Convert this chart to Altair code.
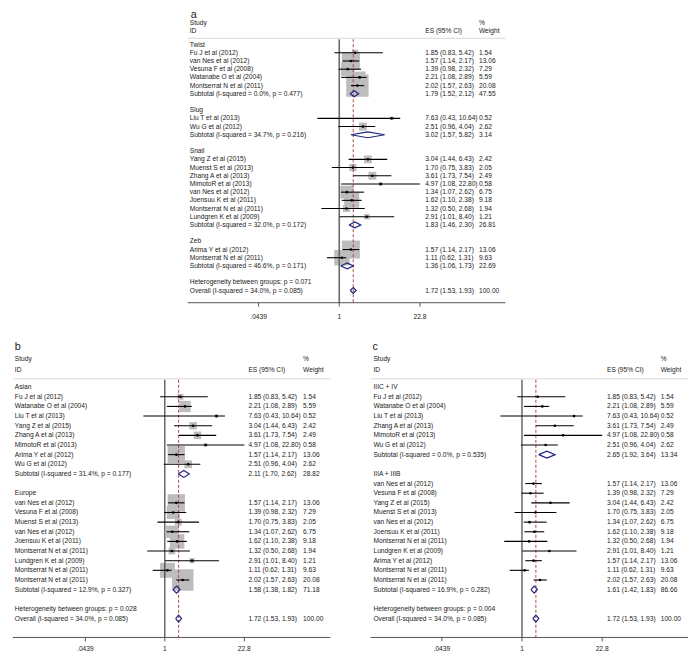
import altair as alt
import pandas as pd

W, H = 684, 648
SX = W / 700
SY = H / 664
FONT = "Liberation Sans"
FS = 6.8 * SX
TXT = "#1a1a1a"

OV_ES, OV_LO, OV_HI, OV_WT = 1.72, 1.53, 1.93, 100.00
OV_LABEL = "Overall  (I-squared = 34.0%, p = 0.085)"

# ---------------- panel a (EMT transcription factor) ----------------
a_groups = ["Twist", "Slug", "Snail", "Zeb"]
a_names = [
    ["Fu J et al (2012)", "van Nes et al (2012)", "Vesuna F et al (2008)", "Watanabe O et al (2004)", "Montserrat N et al (2011)"],
    ["Liu T et al (2013)", "Wu G et al (2012)"],
    ["Yang Z et al (2015)", "Muenst S et al (2013)", "Zhang A et al (2013)", "MimotoR et al (2013)",
     "van Nes et al (2012)", "Joensuu K et al (2011)", "Montserrat N et al (2011)", "Lundgren K et al (2009)"],
    ["Arima Y et al (2012)", "Montserrat N et al (2011)"],
]
a_es = [[1.85, 1.57, 1.39, 2.21, 2.02], [7.63, 2.51], [3.04, 1.70, 3.61, 4.97, 1.34, 1.62, 1.32, 2.91], [1.57, 1.11]]
a_lo = [[0.83, 1.14, 0.98, 1.08, 1.57], [0.43, 0.96], [1.44, 0.75, 1.73, 1.08, 1.07, 1.10, 0.50, 1.01], [1.14, 0.62]]
a_hi = [[5.42, 2.17, 2.32, 2.89, 2.63], [10.64, 4.04], [6.43, 3.83, 7.54, 22.80, 2.62, 2.38, 2.68, 8.40], [2.17, 1.31]]
a_wt = [[1.54, 13.06, 7.29, 5.59, 20.08], [0.52, 2.62], [2.42, 2.05, 2.49, 0.58, 6.75, 9.18, 1.94, 1.21], [13.06, 9.63]]
a_sub_i2 = ["0.0%", "34.7%", "32.0%", "46.6%"]
a_sub_p = ["0.477", "0.216", "0.172", "0.171"]
a_sub_es = [1.79, 3.02, 1.83, 1.36]
a_sub_lo = [1.52, 1.57, 1.46, 1.06]
a_sub_hi = [2.12, 5.82, 2.30, 1.73]
a_sub_wt = [47.55, 3.14, 26.81, 22.69]
a_het_p = "0.071"

# ---------------- panel b (ethnicity) ----------------
b_groups = ["Asian", "Europe"]
b_names = [
    ["Fu J et al (2012)", "Watanabe O et al (2004)", "Liu T et al (2013)", "Yang Z et al (2015)",
     "Zhang A et al (2013)", "MimotoR et al (2013)", "Arima Y et al (2012)", "Wu G et al (2012)"],
    ["van Nes et al (2012)", "Vesuna F et al (2008)", "Muenst S et al (2013)", "van Nes et al (2012)",
     "Joensuu K et al (2011)", "Montserrat N et al (2011)", "Lundgren K et al (2009)",
     "Montserrat N et al (2011)", "Montserrat N et al (2011)"],
]
b_es = [[1.85, 2.21, 7.63, 3.04, 3.61, 4.97, 1.57, 2.51], [1.57, 1.39, 1.70, 1.34, 1.62, 1.32, 2.91, 1.11, 2.02]]
b_lo = [[0.83, 1.08, 0.43, 1.44, 1.73, 1.08, 1.14, 0.96], [1.14, 0.98, 0.75, 1.07, 1.10, 0.50, 1.01, 0.62, 1.57]]
b_hi = [[5.42, 2.89, 10.64, 6.43, 7.54, 22.80, 2.17, 4.04], [2.17, 2.32, 3.83, 2.62, 2.38, 2.68, 8.40, 1.31, 2.63]]
b_wt = [[1.54, 5.59, 0.52, 2.42, 2.49, 0.58, 13.06, 2.62], [13.06, 7.29, 2.05, 6.75, 9.18, 1.94, 1.21, 9.63, 20.08]]
b_sub_i2 = ["31.4%", "12.9%"]
b_sub_p = ["0.177", "0.327"]
b_sub_es = [2.11, 1.58]
b_sub_lo = [1.70, 1.38]
b_sub_hi = [2.62, 1.82]
b_sub_wt = [28.82, 71.18]
b_het_p = "0.028"

# ---------------- panel c (stage) ----------------
c_groups = ["IIIC + IV", "IIIA + IIIB"]
c_names = [
    ["Fu J et al (2012)", "Watanabe O et al (2004)", "Liu T et al (2013)", "Zhang A et al (2013)",
     "MimotoR et al (2013)", "Wu G et al (2012)"],
    ["van Nes et al (2012)", "Vesuna F et al (2008)", "Yang Z et al (2015)", "Muenst S et al (2013)",
     "van Nes et al (2012)", "Joensuu K et al (2011)", "Montserrat N et al (2011)", "Lundgren K et al (2009)",
     "Arima Y et al (2012)", "Montserrat N et al (2011)", "Montserrat N et al (2011)"],
]
c_es = [[1.85, 2.21, 7.63, 3.61, 4.97, 2.51], [1.57, 1.39, 3.04, 1.70, 1.34, 1.62, 1.32, 2.91, 1.57, 1.11, 2.02]]
c_lo = [[0.83, 1.08, 0.43, 1.73, 1.08, 0.96], [1.14, 0.98, 1.44, 0.75, 1.07, 1.10, 0.50, 1.01, 1.14, 0.62, 1.57]]
c_hi = [[5.42, 2.89, 10.64, 7.54, 22.80, 4.04], [2.17, 2.32, 6.43, 3.83, 2.62, 2.38, 2.68, 8.40, 2.17, 1.31, 2.63]]
c_wt = [[1.54, 5.59, 0.52, 2.49, 0.58, 2.62], [13.06, 7.29, 2.42, 2.05, 6.75, 9.18, 1.94, 1.21, 13.06, 9.63, 20.08]]
c_sub_i2 = ["0.0%", "16.9%"]
c_sub_p = ["0.535", "0.282"]
c_sub_es = [2.65, 1.61]
c_sub_lo = [1.92, 1.42]
c_sub_hi = [3.64, 1.83]
c_sub_wt = [13.34, 86.66]
c_het_p = "0.004"

tick_vals = [0.0439, 1, 22.8]
tick_text = [".0439", "1", "22.8"]


def build(groups, names, es, lo, hi, wt, i2, pv, ses, slo, shi, swt, hetp):
    rows = []
    r = 0
    for g in range(len(groups)):
        rows.append(dict(row=r, kind="head", label=groups[g]))
        r += 1
        for i in range(len(names[g])):
            rows.append(dict(row=r, kind="study", label=names[g][i], es=es[g][i], lo=lo[g][i],
                             hi=hi[g][i], w=wt[g][i]))
            r += 1
        rows.append(dict(row=r, kind="sub", label=f"Subtotal  (I-squared = {i2[g]}, p = {pv[g]})",
                         es=ses[g], lo=slo[g], hi=shi[g], w=swt[g]))
        r += 2
    rows.append(dict(row=r, kind="het", label=f"Heterogeneity between groups: p = {hetp}"))
    r += 1
    rows.append(dict(row=r, kind="overall", label=OV_LABEL, es=OV_ES, lo=OV_LO, hi=OV_HI, w=OV_WT))
    df = pd.DataFrame(rows)
    has = df["es"].notna()
    df["es_txt"] = ""
    df["w_txt"] = ""
    df.loc[has, "es_txt"] = df[has].apply(lambda d: f"{d.es:.2f} ({d.lo:.2f}, {d.hi:.2f})", axis=1)
    df.loc[has, "w_txt"] = df[has].apply(lambda d: f"{d.w:.2f}", axis=1)
    return df


def panel(df, g, letter, boxes):
    xlo = 10 ** ((0 - g["null"]) / g["ppd"])
    xhi = 10 ** ((700 - g["null"]) / g["ppd"])
    xs = alt.Scale(type="log", domain=[xlo, xhi], nice=False)
    rlo = (0 - g["row0"]) / g["sp"]
    rhi = (664 - g["row0"]) / g["sp"]
    ys = alt.Scale(domain=[rlo, rhi], reverse=True, nice=False, zero=False)

    def R(py):
        return (py - g["row0"]) / g["sp"]

    def V(px):
        return 10 ** ((px - g["null"]) / g["ppd"])

    def X(f):
        return alt.X(f, type="quantitative", scale=xs, axis=None)

    def Y(f):
        return alt.Y(f, type="quantitative", scale=ys, axis=None)

    def txt(**kw):
        base = dict(font=FONT, fontSize=FS, color=TXT, baseline="middle", align="left")
        base.update(kw)
        return base

    layers = []
    studies = df[df.kind == "study"]

    sep = pd.DataFrame({"x0": [V(g["left"])], "x1": [V(g["right"])], "y": [R(g["y_sep"])]})
    layers.append(alt.Chart(sep).mark_rule(color="#d9d9d9", strokeWidth=1).encode(
        x=X("x0"), x2="x1", y=Y("y")))

    if boxes:
        layers.append(alt.Chart(studies).mark_square(color="#bdbdbd", opacity=1).encode(
            x=X("es"), y=Y("row"),
            size=alt.Size("w:Q", scale=alt.Scale(domain=[0, 100], range=[0, 100 * g["kbox"] * SX * SX]),
                          legend=None)))

    vl = pd.DataFrame({"x": [1.0], "y0": [R(g["y_sep"] + 1)], "y1": [R(g["y_axis"])]})
    layers.append(alt.Chart(vl).mark_rule(color=g["nullcol"], strokeWidth=g["nullw"]).encode(
        x=X("x"), y=Y("y0"), y2="y1"))
    ol = pd.DataFrame({"x": [OV_ES], "y0": [R(g["y_sep"] + 1)], "y1": [R(g["y_axis"])]})
    layers.append(alt.Chart(ol).mark_rule(color="#a33a35", strokeWidth=0.9, strokeDash=[3, 2]).encode(
        x=X("x"), y=Y("y0"), y2="y1"))

    layers.append(alt.Chart(studies).mark_rule(color="black", strokeWidth=1.1).encode(
        x=X("lo"), x2="hi", y=Y("row")))
    layers.append(alt.Chart(studies).mark_circle(color="black", opacity=1, size=7).encode(
        x=X("es"), y=Y("row")))

    dm = []
    h = 0.36
    for _, d in df[df.kind.isin(["sub", "overall"])].iterrows():
        pts = [(d.lo, d.row), (d.es, d.row - h), (d.hi, d.row), (d.es, d.row + h), (d.lo, d.row)]
        for k, (vx, vy) in enumerate(pts):
            dm.append(dict(did=int(d.row), k=k, vx=vx, vy=vy))
    layers.append(alt.Chart(pd.DataFrame(dm)).mark_line(color="#1f2580", strokeWidth=1.2).encode(
        x=X("vx"), y=Y("vy"), detail="did:N", order="k:Q"))

    ax = pd.DataFrame({"x0": [V(g["left"])], "x1": [V(g["right"])], "y": [R(g["y_axis"])]})
    layers.append(alt.Chart(ax).mark_rule(color="#555555", strokeWidth=1).encode(
        x=X("x0"), x2="x1", y=Y("y")))
    tk = pd.DataFrame({"x": tick_vals, "t": tick_text, "y0": R(g["y_axis"]), "y1": R(g["y_axis"] + 4),
                       "yl": R(g["y_ticklab"])})
    layers.append(alt.Chart(tk).mark_rule(color="#555555", strokeWidth=1).encode(
        x=X("x"), y=Y("y0"), y2="y1"))
    layers.append(alt.Chart(tk).mark_text(**txt(align="center")).encode(
        x=X("x"), y=Y("yl"), text="t:N"))

    layers.append(alt.Chart(df).mark_text(**txt()).encode(
        x=alt.value(g["label_x"] * SX), y=Y("row"), text="label:N"))
    wes = df[df.es_txt != ""]
    layers.append(alt.Chart(wes).mark_text(**txt()).encode(
        x=alt.value(g["es_x"] * SX), y=Y("row"), text="es_txt:N"))
    layers.append(alt.Chart(wes).mark_text(**txt()).encode(
        x=alt.value(g["wt_x"] * SX), y=Y("row"), text="w_txt:N"))

    hl = pd.DataFrame({"t": ["Study", "ID"], "y": [R(g["y_pct"]), R(g["y_id"])]})
    layers.append(alt.Chart(hl).mark_text(**txt()).encode(
        x=alt.value(g["label_x"] * SX), y=Y("y"), text="t:N"))
    he = pd.DataFrame({"t": ["ES (95% CI)"], "y": [R(g["y_id"])]})
    layers.append(alt.Chart(he).mark_text(**txt()).encode(
        x=alt.value(g["es_x"] * SX), y=Y("y"), text="t:N"))
    hw = pd.DataFrame({"t": ["%", "Weight"], "y": [R(g["y_pct"]), R(g["y_id"])]})
    layers.append(alt.Chart(hw).mark_text(**txt()).encode(
        x=alt.value(g["wt_x"] * SX), y=Y("y"), text="t:N"))
    lt = pd.DataFrame({"t": [letter], "y": [R(g["y_letter"])]})
    layers.append(alt.Chart(lt).mark_text(**txt(fontSize=11 * SX, baseline="alphabetic")).encode(
        x=alt.value(g["letter_x"] * SX), y=Y("y"), text="t:N"))
    return layers


geo_a = dict(null=339, ppd=60.8, label_x=186, es_x=427, wt_x=482, left=184, right=509,
             row0=37.5, sp=8.4, y_letter=10, y_pct=15, y_id=24, y_sep=31, y_axis=302, y_ticklab=317,
             letter_x=187, kbox=26, nullcol="#6b6b6b", nullw=1.6)
geo_b = dict(null=160.5, ppd=59.9, label_x=7, es_x=246, wt_x=302, left=5, right=330,
             row0=388.5, sp=9.88, y_letter=350, y_pct=360, y_id=371, y_sep=380, y_axis=645, y_ticklab=657,
             letter_x=7, kbox=24, nullcol="#333333", nullw=1.1)
geo_c = dict(null=526, ppd=60.4, label_x=374, es_x=613, wt_x=668, left=371, right=696,
             row0=388.5, sp=9.88, y_letter=350, y_pct=360, y_id=371, y_sep=380, y_axis=645, y_ticklab=657,
             letter_x=373, kbox=24, nullcol="#333333", nullw=1.1)

df_a = build(a_groups, a_names, a_es, a_lo, a_hi, a_wt, a_sub_i2, a_sub_p, a_sub_es, a_sub_lo, a_sub_hi,
             a_sub_wt, a_het_p)
df_b = build(b_groups, b_names, b_es, b_lo, b_hi, b_wt, b_sub_i2, b_sub_p, b_sub_es, b_sub_lo, b_sub_hi,
             b_sub_wt, b_het_p)
df_c = build(c_groups, c_names, c_es, c_lo, c_hi, c_wt, c_sub_i2, c_sub_p, c_sub_es, c_sub_lo, c_sub_hi,
             c_sub_wt, c_het_p)

layers = panel(df_a, geo_a, "a", True) + panel(df_b, geo_b, "b", True) + panel(df_c, geo_c, "c", False)

chart = alt.layer(*layers).resolve_scale(
    x="independent", y="independent", size="independent"
).properties(
    width=W, height=H, autosize=alt.AutoSizeParams(type="none"), padding=0
).configure_view(stroke=None)

chart.save("out.html", embed_options={"renderer": "svg", "actions": False})
